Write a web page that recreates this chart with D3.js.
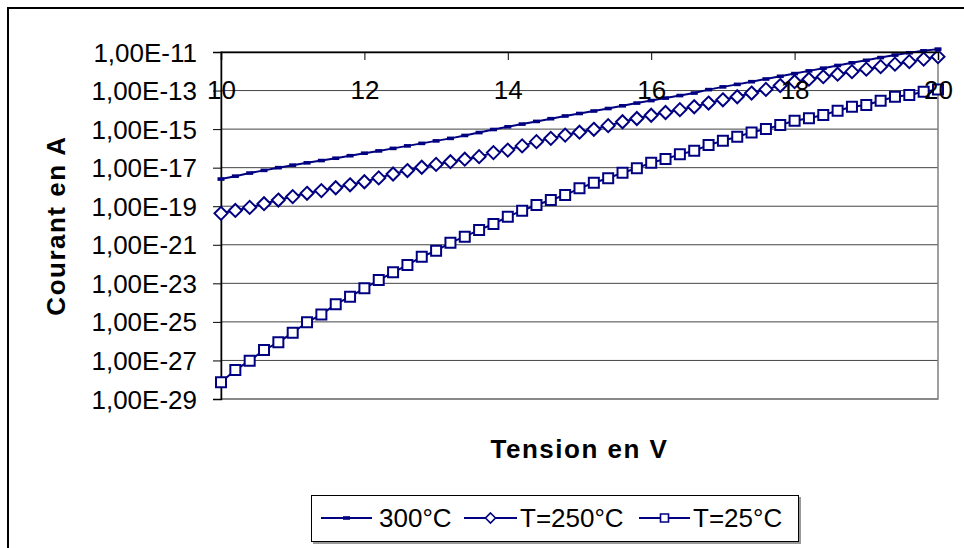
<!DOCTYPE html>
<html lang="fr">
<head>
    <meta charset="UTF-8">
    <title>Courant en A</title>
    <style>
        body { margin: 0; background: #fff; }
        text { font-family: Arial, "Liberation Sans", sans-serif; }
    </style>
</head>
<body>

    <svg id="svg" width="964" height="548"></svg>

    <script src="https://d3js.org/d3.v7.min.js"></script>
    <script>
        // tension en V (10 -> 20, pas de 0.2)
        const tension = [10.0, 10.2, 10.4, 10.6, 10.8, 11.0, 11.2, 11.4, 11.6, 11.8,
            12.0, 12.2, 12.4, 12.6, 12.8, 13.0, 13.2, 13.4, 13.6, 13.8,
            14.0, 14.2, 14.4, 14.6, 14.8, 15.0, 15.2, 15.4, 15.6, 15.8,
            16.0, 16.2, 16.4, 16.6, 16.8, 17.0, 17.2, 17.4, 17.6, 17.8,
            18.0, 18.2, 18.4, 18.6, 18.8, 19.0, 19.2, 19.4, 19.6, 19.8, 20.0]

        const courant300 = [2.57e-18, 3.63e-18, 5.25e-18, 7.24e-18, 1.00e-17, 1.35e-17, 1.78e-17, 2.34e-17, 3.09e-17, 4.17e-17,
            5.62e-17, 7.41e-17, 1.00e-16, 1.35e-16, 1.82e-16, 2.45e-16, 3.31e-16, 4.68e-16, 6.61e-16, 9.55e-16,
            1.32e-15, 1.82e-15, 2.51e-15, 3.47e-15, 4.79e-15, 6.46e-15, 8.71e-15, 1.17e-14, 1.62e-14, 2.24e-14,
            3.02e-14, 4.07e-14, 5.50e-14, 7.41e-14, 1.12e-13, 1.55e-13, 2.09e-13, 2.88e-13, 3.98e-13, 5.50e-13,
            7.59e-13, 1.05e-12, 1.45e-12, 2.00e-12, 2.75e-12, 3.72e-12, 5.13e-12, 6.92e-12, 9.12e-12, 1.15e-11, 1.41e-11]

        const courant250 = [4.27e-20, 6.03e-20, 8.71e-20, 1.35e-19, 2.09e-19, 3.16e-19, 4.68e-19, 6.46e-19, 9.12e-19, 1.29e-18,
            1.86e-18, 2.95e-18, 4.68e-18, 7.08e-18, 1.05e-17, 1.48e-17, 2.04e-17, 2.75e-17, 3.72e-17, 6.03e-17,
            8.13e-17, 1.35e-16, 2.24e-16, 3.31e-16, 4.90e-16, 6.92e-16, 9.77e-16, 1.51e-15, 2.40e-15, 3.55e-15,
            5.25e-15, 7.24e-15, 1.02e-14, 1.45e-14, 2.24e-14, 3.31e-14, 4.79e-14, 7.41e-14, 1.15e-13, 1.82e-13,
            2.88e-13, 3.89e-13, 5.25e-13, 7.08e-13, 9.55e-13, 1.29e-12, 1.74e-12, 2.34e-12, 3.16e-12, 4.27e-12, 5.75e-12]

        const courant25 = [7.41e-29, 3.16e-28, 9.77e-28, 3.47e-27, 8.71e-27, 2.75e-26, 9.55e-26, 2.45e-25, 8.13e-25, 2.04e-24,
            5.50e-24, 1.48e-23, 3.72e-23, 8.91e-23, 2.40e-22, 4.90e-22, 1.29e-21, 2.63e-21, 5.89e-21, 1.20e-20,
            2.88e-20, 5.89e-20, 1.15e-19, 2.09e-19, 3.80e-19, 8.51e-19, 1.66e-18, 2.82e-18, 5.50e-18, 9.33e-18,
            1.82e-17, 2.82e-17, 4.90e-17, 7.59e-17, 1.48e-16, 2.51e-16, 3.98e-16, 6.76e-16, 1.00e-15, 1.62e-15,
            2.69e-15, 3.63e-15, 5.37e-15, 8.91e-15, 1.45e-14, 1.78e-14, 2.95e-14, 4.79e-14, 5.89e-14, 8.71e-14, 1.15e-13]

        const seriesNames = ['300°C', 'T=250°C', 'T=25°C']
        const xTicks = [10, 12, 14, 16, 18, 20]
        const yTicks = [1e-11, 1e-13, 1e-15, 1e-17, 1e-19, 1e-21, 1e-23, 1e-25, 1e-27, 1e-29]

        const navy = '#000080'
        const plotLeft = 221, plotRight = 938, plotTop = 52, plotBottom = 399

        const svg = d3.select('#svg')

        // cadre du graphique
        svg.append('rect')
            .attr('x', 8).attr('y', 8)
            .attr('width', 980).attr('height', 560)
            .attr('fill', 'none').attr('stroke', '#000').attr('stroke-width', 2)

        const xScale = d3.scaleLinear()
            .domain([10, 20])
            .range([plotLeft, plotRight])

        const yScale = d3.scaleLog()
            .domain([1e-29, 1e-11])
            .range([plotBottom, plotTop])

        // quadrillage
        svg.append('g')
            .selectAll('line')
            .data(yTicks)
            .enter()
            .append('line')
            .attr('x1', plotLeft).attr('x2', plotRight)
            .attr('y1', d => yScale(d)).attr('y2', d => yScale(d))
            .attr('stroke', '#444').attr('stroke-width', 1)

        // bord de la zone de traçage
        svg.append('rect')
            .attr('x', plotLeft).attr('y', plotTop)
            .attr('width', plotRight - plotLeft).attr('height', plotBottom - plotTop)
            .attr('fill', 'none').attr('stroke', '#808080').attr('stroke-width', 1.5)

        const fmt = d => '1,00E' + Math.round(Math.log10(d))

        // axe Y
        const yAxis = svg.append('g')
            .attr('transform', `translate(${plotLeft},0)`)
            .call(d3.axisLeft(yScale).tickValues(yTicks).tickFormat(fmt).tickSize(8).tickPadding(16))
        yAxis.select('.domain').attr('stroke', '#000').attr('stroke-width', 1.5)
        yAxis.selectAll('.tick line').attr('stroke', '#000')
        yAxis.selectAll('text')
            .attr('fill', '#000')
            .style('font-size', '26px')
            .attr('dy', '0.35em')

        // titres des axes
        svg.append('text')
            .text('Tension en V')
            .attr('x', (plotLeft + plotRight) / 2)
            .attr('y', 458)
            .attr('text-anchor', 'middle')
            .style('font-size', '26px')
            .style('font-weight', 'bold')
            .style('letter-spacing', '1.5px')

        svg.append('text')
            .text('Courant en A')
            .attr('transform', `translate(65,${(plotTop + plotBottom) / 2}) rotate(-90)`)
            .attr('text-anchor', 'middle')
            .style('font-size', '26px')
            .style('font-weight', 'bold')
            .style('letter-spacing', '1.5px')

        const line = d3.line()
            .x(d => xScale(d[0]))
            .y(d => yScale(d[1]))

        const all = [courant300, courant250, courant25].map(c => tension.map((v, i) => [v, c[i]]))

        const diamond = 'M0,-6.5L6.5,0L0,6.5L-6.5,0Z'
        const square = 'M-5,-5H5V5H-5Z'

        function marker(g, k) {
            if (k === 0) {
                g.append('rect')
                    .attr('x', -3.5).attr('y', -1.8)
                    .attr('width', 7).attr('height', 3.6)
                    .attr('fill', navy)
            } else {
                g.append('path')
                    .attr('d', k === 1 ? diamond : square)
                    .attr('fill', '#fff')
                    .attr('stroke', navy)
                    .attr('stroke-width', 2)
            }
        }

        // séries (ordre de dessin : 25°C, 250°C, 300°C au dessus)
        ;[2, 1, 0].forEach(k => {
            svg.append('path')
                .attr('d', line(all[k]))
                .attr('fill', 'none')
                .attr('stroke', navy)
                .attr('stroke-width', 2)

            svg.append('g')
                .selectAll('g')
                .data(all[k])
                .enter()
                .append('g')
                .attr('transform', d => `translate(${xScale(d[0])},${yScale(d[1])})`)
                .each(function () { marker(d3.select(this), k) })
        })

        // axe X (en haut, à 1E-11), dessiné par-dessus les courbes
        const xAxis = svg.append('g')
            .attr('transform', `translate(0,${plotTop})`)
            .call(d3.axisBottom(xScale).tickValues(xTicks).tickFormat(d3.format('d')).tickSize(8).tickPadding(21))
        xAxis.select('.domain').attr('stroke', '#000').attr('stroke-width', 1.5)
        xAxis.selectAll('.tick line').attr('stroke', '#000')
        xAxis.selectAll('text')
            .attr('fill', '#000')
            .style('font-size', '26px')

        // légende
        const legend = svg.append('g')
        legend.append('rect')
            .attr('x', 313).attr('y', 497)
            .attr('width', 488).attr('height', 47)
            .attr('fill', '#999')
        legend.append('rect')
            .attr('x', 311.5).attr('y', 495.5)
            .attr('width', 487).attr('height', 46)
            .attr('fill', '#fff').attr('stroke', '#000').attr('stroke-width', 1)

        const legX = [[321, 372, 379], [464, 517, 520], [639, 690, 693]]
        seriesNames.forEach((name, k) => {
            const [x1, x2, tx] = legX[k]
            legend.append('line')
                .attr('x1', x1).attr('x2', x2)
                .attr('y1', 518).attr('y2', 518)
                .attr('stroke', navy).attr('stroke-width', 2)
            const m = legend.append('g')
                .attr('transform', `translate(${(x1 + x2) / 2},518)`)
            if (k === 0) marker(m, 0)
            else m.append('path')
                .attr('d', k === 1 ? 'M0,-5L5,0L0,5L-5,0Z' : 'M-4,-4H4V4H-4Z')
                .attr('fill', '#fff').attr('stroke', navy).attr('stroke-width', 1.6)
            legend.append('text')
                .text(name)
                .attr('x', tx)
                .attr('y', 527)
                .style('font-size', '26px')
        })
    </script>
</body>
</html>
